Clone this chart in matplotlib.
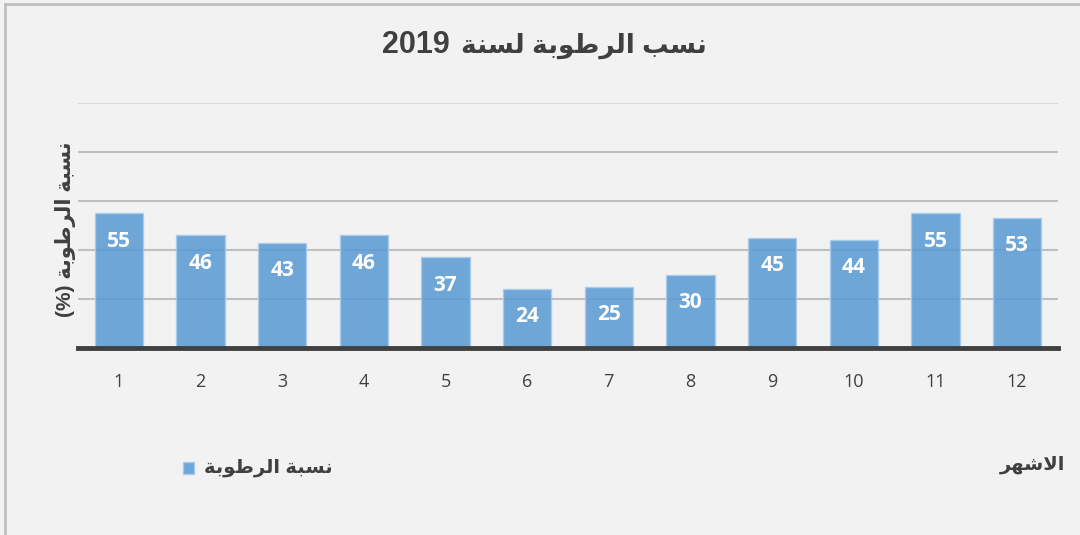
import matplotlib
matplotlib.use("Agg")
import matplotlib.pyplot as plt
from matplotlib.lines import Line2D
from matplotlib.patches import Rectangle

months = [1, 2, 3, 4, 5, 6, 7, 8, 9, 10, 11, 12]
humidity = [55, 46, 43, 46, 37, 24, 25, 30, 45, 44, 55, 53]

title_txt = "نسب الرطوبة لسنة"
title_year = "2019"
ylabel_txt = "نسبة الرطوبة"
legend_txt = "نسبة الرطوبة"
xlabel_txt = "الاشهر"

# presentation forms: isolated, final, initial, medial
FORMS = {
    'ا': ('\uFE8D', '\uFE8E', None, None),
    'ب': ('\uFE8F', '\uFE90', '\uFE91', '\uFE92'),
    'ة': ('\uFE93', '\uFE94', None, None),
    'ر': ('\uFEAD', '\uFEAE', None, None),
    'س': ('\uFEB1', '\uFEB2', '\uFEB3', '\uFEB4'),
    'ش': ('\uFEB5', '\uFEB6', '\uFEB7', '\uFEB8'),
    'ط': ('\uFEC1', '\uFEC2', '\uFEC3', '\uFEC4'),
    'ل': ('\uFEDD', '\uFEDE', '\uFEDF', '\uFEE0'),
    'ن': ('\uFEE5', '\uFEE6', '\uFEE7', '\uFEE8'),
    'ه': ('\uFEE9', '\uFEEA', '\uFEEB', '\uFEEC'),
    'و': ('\uFEED', '\uFEEE', None, None),
    'ﻻ': ('\uFEFB', '\uFEFC', None, None),
}


def shape_word(word):
    word = word.replace('لا', 'ﻻ')
    out = []
    for i, ch in enumerate(word):
        f = FORMS[ch]
        prev = word[i - 1] if i > 0 else None
        nxt = word[i + 1] if i < len(word) - 1 else None
        join_prev = prev is not None and FORMS[prev][2] is not None
        join_next = nxt is not None and f[2] is not None
        if join_prev and join_next:
            out.append(f[3])
        elif join_prev:
            out.append(f[1])
        elif join_next:
            out.append(f[2])
        else:
            out.append(f[0])
    return ''.join(out)


def ar(text):
    # shape each word, then lay out right to left
    words = [shape_word(w)[::-1] for w in text.split(' ')]
    return ' '.join(words[::-1])


BG = '#f2f2f2'
DARK = '#404040'
fam = ['Liberation Sans', 'DejaVu Sans']

fig = plt.figure(figsize=(10.8, 5.35), dpi=100, facecolor=BG)
ax = fig.add_axes([0.0722, 0.3495, 0.9074, 0.458])
ax.set_facecolor(BG)

bars = ax.bar(months, humidity, width=0.59, color='#5b9bd5', alpha=0.87,
              edgecolor='#a9cbeb', linewidth=1.0, zorder=2)
for b, v in zip(bars, humidity):
    ax.annotate(str(v), (b.get_x() + b.get_width() / 2, v), xytext=(0, -20),
                textcoords='offset points', ha='center', va='center',
                color='white', fontsize=15, fontweight='bold',
                family='Open Sans', zorder=3)

ax.set_xlim(0.5, 12.5)
ax.set_ylim(0, 100)
ax.set_yticks([20, 40, 60, 80])
ax.yaxis.grid(True, color='#bfbfbf', linewidth=1.5, zorder=0)
ax.axhline(100, color='#d9d9d9', linewidth=1.5, zorder=0)
ax.set_axisbelow(True)
ax.tick_params(axis='y', left=False, labelleft=False)
ax.set_xticks(months)
ax.set_xticklabels([str(m) for m in months], fontsize=13, color=DARK,
                   family='Open Sans')
ax.tick_params(axis='x', length=0, pad=18)
for s in ['top', 'right', 'left']:
    ax.spines[s].set_visible(False)
ax.spines['bottom'].set_color(DARK)
ax.spines['bottom'].set_linewidth(3.5)
ax.spines['bottom'].set_zorder(4)

# title: year on the left, arabic words to its right
fig.text(0.416, 0.915, title_year, ha='right', va='center', fontsize=22,
         fontweight='bold', color=DARK, family='Liberation Sans')
fig.text(0.6546, 0.915, ar(title_txt), ha='right', va='center', fontsize=19,
         fontweight='bold', color=DARK, family=fam)
fig.text(0.061, 0.572, '(%) ' + ar(ylabel_txt), rotation=90, ha='center',
         va='center', fontsize=15, fontweight='bold', color=DARK, family=fam)

# legend key and label
fig.add_artist(Rectangle((0.1695, 0.114), 0.0105, 0.022,
                         transform=fig.transFigure, facecolor='#6fa5d8',
                         edgecolor='#a9cbeb', linewidth=1))
fig.text(0.189, 0.125, ar(legend_txt), ha='left', va='center', fontsize=14,
         fontweight='bold', color=DARK, family=fam)
fig.text(0.986, 0.131, ar(xlabel_txt), ha='right', va='center', fontsize=14,
         fontweight='bold', color=DARK, family=fam)

# chart frame, top and left edges
fig.add_artist(Line2D([0.005, 1.0], [0.992, 0.992], transform=fig.transFigure,
                      color='#bfbfbf', linewidth=2))
fig.add_artist(Line2D([0.005, 0.005], [0.0, 0.992], transform=fig.transFigure,
                      color='#bfbfbf', linewidth=2))

fig.savefig('out.png', dpi=100, facecolor=BG)
